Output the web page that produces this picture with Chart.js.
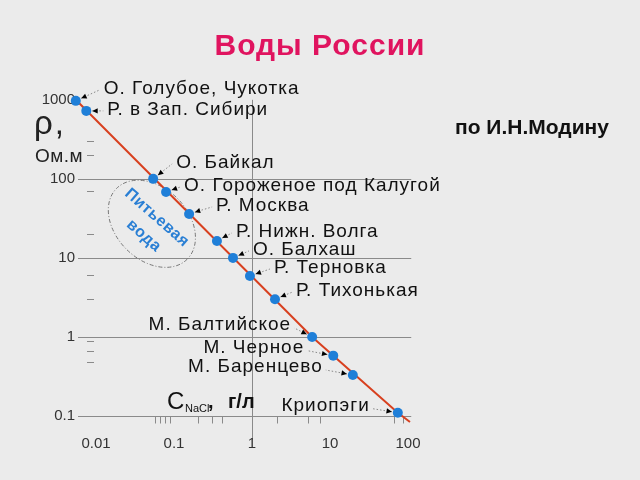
<!DOCTYPE html>
<html>
<head>
<meta charset="utf-8">
<script src="https://cdn.jsdelivr.net/npm/chart.js@4.4.1/dist/chart.umd.min.js"></script>
<style>
  html, body { margin: 0; padding: 0; background: #ebebeb; }
  canvas { display: block; }
</style>
</head>
<body>
<canvas id="grafico" width="640" height="480"></canvas>
<script>
// концентрация NaCl, г/л и удельное сопротивление, Ом.м
const waterNames = ['О. Голубое, Чукотка', 'Р. в Зап. Сибири', 'О. Байкал', 'О. Гороженое под Калугой',
    'Р. Москва', 'Р. Нижн. Волга', 'О. Балхаш', 'Р. Терновка', 'Р. Тихонькая',
    'М. Балтийское', 'М. Черное', 'М. Баренцево', 'Криопэги'];
const concentration = [0.0055, 0.0075, 0.054, 0.079, 0.156, 0.355, 0.57, 0.94, 1.97, 5.9, 11, 19.6, 74];
const resistivity = [970, 724, 100, 68, 36, 16.4, 10, 5.9, 3.0, 1.0, 0.58, 0.33, 0.11];

// красная линия
const lineC = [0.0055, 5.9, 74, 106];
const lineRho = [1000, 1.0, 0.11, 0.084];

// подписи осей
const xTicks = [0.01, 0.1, 1, 10, 100];
const xTickLabels = ['0.01', '0.1', '1', '10', '100'];
const yTicks = [1000, 100, 10, 1, 0.1];
const yTickLabels = ['1000', '100', '10', '1', '0.1'];
const xMinor = [0.057, 0.066, 0.077, 0.089, 0.2, 0.31, 0.41, 2.1, 5.2, 7.4, 66, 86];
const yMinor = [300, 200, 70, 20, 6, 3, 0.89, 0.66, 0.48];

// где стоят подписи относительно точки: dx, dy, сторона
const labelPlace = [
    [28, -12, 'left'], [21, -1, 'left'], [23, -16, 'left'], [18, -6, 'left'],
    [27, -8, 'left'], [19, -9, 'left'], [20, -8, 'left'], [24, -8, 'left'], [21, -8, 'left'],
    [-21, -12, 'right'], [-29, -8, 'right'], [-30, -8, 'right'], [-28, -7, 'right']
];

const FONT = "'Liberation Sans', Arial, sans-serif";

const overlay = {
    id: 'overlay',
    beforeDraw(chart) {
        const ctx = chart.ctx;
        const x = chart.scales.x, y = chart.scales.y;
        ctx.save();
        ctx.fillStyle = '#ebebeb';
        ctx.fillRect(0, 0, chart.width, chart.height);

        const xL = 78, xR = x.getPixelForValue(110);
        ctx.strokeStyle = '#8a8a8a';
        ctx.lineWidth = 1;
        // горизонтальные линии
        [100, 10, 1, 0.1].forEach(v => {
            const py = Math.round(y.getPixelForValue(v)) + 0.5;
            ctx.beginPath();
            ctx.moveTo(xL, py);
            ctx.lineTo(xR, py);
            ctx.stroke();
        });
        // вертикаль x = 1
        const p1 = Math.round(x.getPixelForValue(1)) + 0.5;
        ctx.beginPath();
        ctx.moveTo(p1, y.getPixelForValue(1000));
        ctx.lineTo(p1, y.getPixelForValue(0.05));
        ctx.stroke();
        // мелкие штрихи
        const yAxis = Math.round(y.getPixelForValue(0.1)) + 0.5;
        xMinor.forEach(v => {
            const px = Math.round(x.getPixelForValue(v)) + 0.5;
            ctx.beginPath();
            ctx.moveTo(px, yAxis);
            ctx.lineTo(px, yAxis + 7);
            ctx.stroke();
        });
        yMinor.forEach(v => {
            const py = Math.round(y.getPixelForValue(v)) + 0.5;
            ctx.beginPath();
            ctx.moveTo(87, py);
            ctx.lineTo(94, py);
            ctx.stroke();
        });

        // подписи делений
        ctx.fillStyle = '#333';
        ctx.font = '15px ' + FONT;
        ctx.textBaseline = 'middle';
        ctx.textAlign = 'right';
        yTicks.forEach((v, i) => ctx.fillText(yTickLabels[i], 75, y.getPixelForValue(v)));
        ctx.textAlign = 'center';
        xTicks.forEach((v, i) => ctx.fillText(xTickLabels[i], x.getPixelForValue(v), 444));

        // овал "Питьевая вода"
        const cx = x.getPixelForValue(0.052), cy = y.getPixelForValue(27);
        ctx.strokeStyle = '#777';
        ctx.setLineDash([4, 2, 1, 2]);
        ctx.beginPath();
        ctx.ellipse(cx, cy, 50, 36, Math.PI / 4, 0, Math.PI * 2);
        ctx.stroke();
        ctx.setLineDash([]);
        ctx.fillStyle = '#2a7fd4';
        ctx.font = 'bold 16px ' + FONT;
        ctx.letterSpacing = '0.5px';
        ctx.textAlign = 'center';
        ctx.save();
        ctx.translate(cx + 5, cy - 6);
        ctx.rotate(0.72);
        ctx.fillText('Питьевая', 0, 0);
        ctx.restore();
        ctx.save();
        ctx.translate(cx - 8, cy + 12);
        ctx.rotate(0.72);
        ctx.fillText('вода', 0, 0);
        ctx.restore();
        ctx.letterSpacing = '0px';
        ctx.restore();
    },
    afterDatasetsDraw(chart) {
        const ctx = chart.ctx;
        const x = chart.scales.x, y = chart.scales.y;
        ctx.save();

        // заголовок
        ctx.fillStyle = '#e0145f';
        ctx.font = 'bold 30px ' + FONT;
        ctx.letterSpacing = '1px';
        ctx.textAlign = 'center';
        ctx.textBaseline = 'middle';
        ctx.fillText('Воды России', 320, 47);

        ctx.fillStyle = '#111';
        ctx.font = 'bold 21px ' + FONT;
        ctx.letterSpacing = '0px';
        ctx.textAlign = 'left';
        ctx.fillText('по И.Н.Модину', 455, 128);

        // ось Y
        ctx.fillStyle = '#222';
        ctx.font = '33px ' + FONT;
        ctx.letterSpacing = '2px';
        ctx.textBaseline = 'alphabetic';
        ctx.fillText('ρ,', 34, 134);
        ctx.font = '19px ' + FONT;
        ctx.letterSpacing = '0.5px';
        ctx.textBaseline = 'middle';
        ctx.fillText('Ом.м', 35, 157);
        ctx.letterSpacing = '0px';

        // ось X
        ctx.fillStyle = '#111';
        ctx.font = '24px ' + FONT;
        ctx.textBaseline = 'alphabetic';
        ctx.fillText('C', 167, 409);
        ctx.font = '11px ' + FONT;
        ctx.fillText('NaCl', 185, 412);
        ctx.font = 'bold 20px ' + FONT;
        ctx.fillText(',', 208, 408);
        ctx.fillText('г/л', 228, 408);

        // подписи точек с выносками
        ctx.font = '19px ' + FONT;
        ctx.textBaseline = 'middle';
        waterNames.forEach((name, i) => {
            const px = x.getPixelForValue(concentration[i]);
            const py = y.getPixelForValue(resistivity[i]);
            const [dx, dy, side] = labelPlace[i];
            const lx = px + dx, ly = py + dy;
            ctx.fillStyle = '#111';
            ctx.textAlign = side;
            ctx.letterSpacing = '1px';
            ctx.fillText(name, lx, ly);
            ctx.letterSpacing = '0px';

            const ex = side === 'left' ? lx - 4 : lx + 3;
            const ey = side === 'left' ? ly + 1 : ly + 3;
            const ang = Math.atan2(ey - py, ex - px);
            const sx = px + Math.cos(ang) * 6, sy = py + Math.sin(ang) * 6;
            ctx.strokeStyle = '#888';
            ctx.lineWidth = 1;
            ctx.setLineDash([1.5, 2]);
            ctx.beginPath();
            ctx.moveTo(sx, sy);
            ctx.lineTo(ex, ey);
            ctx.stroke();
            ctx.setLineDash([]);
            // стрелка
            ctx.fillStyle = '#000';
            ctx.beginPath();
            ctx.moveTo(sx, sy);
            ctx.lineTo(sx + Math.cos(ang + 0.45) * 6, sy + Math.sin(ang + 0.45) * 6);
            ctx.lineTo(sx + Math.cos(ang - 0.45) * 6, sy + Math.sin(ang - 0.45) * 6);
            ctx.closePath();
            ctx.fill();
        });
        ctx.restore();
    }
};

new Chart(document.getElementById('grafico'), {
    type: 'scatter',
    data: {
        datasets: [
            {
                label: 'Воды',
                data: concentration.map((c, i) => ({ x: c, y: resistivity[i] })),
                backgroundColor: '#1f7fd8',
                borderColor: '#1f7fd8',
                pointRadius: 5,
                borderWidth: 0,
                order: 1,
                clip: false
            },
            {
                label: 'Линия',
                data: lineC.map((c, i) => ({ x: c, y: lineRho[i] })),
                showLine: true,
                borderColor: '#d8401f',
                borderWidth: 2,
                pointRadius: 0,
                order: 2,
                clip: false
            }
        ]
    },
    options: {
        responsive: false,
        animation: false,
        layout: { padding: { left: 65, right: 208.5, top: 76, bottom: 40.2 } },
        scales: {
            x: { type: 'logarithmic', min: 0.004, max: 200, display: false },
            y: { type: 'logarithmic', min: 0.05, max: 2000, display: false }
        },
        plugins: {
            legend: { display: false },
            tooltip: { enabled: false }
        }
    },
    plugins: [overlay]
});
</script>
</body>
</html>
